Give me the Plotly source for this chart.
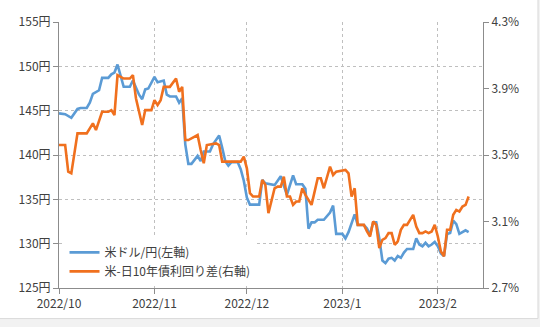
import plotly.graph_objects as go

# ---- data ----
usdjpy_dates = [
    "2022-10-01", "2022-10-03", "2022-10-05", "2022-10-07", "2022-10-08", "2022-10-10",
    "2022-10-11", "2022-10-12", "2022-10-14", "2022-10-15", "2022-10-17", "2022-10-18",
    "2022-10-19", "2022-10-20", "2022-10-22", "2022-10-24", "2022-10-25", "2022-10-27",
    "2022-10-28", "2022-10-29", "2022-10-30", "2022-11-01", "2022-11-02", "2022-11-04",
    "2022-11-05", "2022-11-06", "2022-11-08", "2022-11-09", "2022-11-10", "2022-11-11",
    "2022-11-12", "2022-11-13", "2022-11-15", "2022-11-16", "2022-11-17", "2022-11-19",
    "2022-11-20", "2022-11-22", "2022-11-23", "2022-11-24", "2022-11-25", "2022-11-26",
    "2022-11-28", "2022-11-29", "2022-11-30", "2022-12-01", "2022-12-02", "2022-12-05",
    "2022-12-06", "2022-12-07", "2022-12-10", "2022-12-12", "2022-12-14", "2022-12-16",
    "2022-12-17", "2022-12-19", "2022-12-20", "2022-12-21", "2022-12-22", "2022-12-23",
    "2022-12-24", "2022-12-26", "2022-12-28", "2022-12-29", "2022-12-30", "2023-01-01",
    "2023-01-02", "2023-01-03", "2023-01-05", "2023-01-06", "2023-01-08", "2023-01-09",
    "2023-01-10", "2023-01-11", "2023-01-12", "2023-01-13", "2023-01-14", "2023-01-15",
    "2023-01-16", "2023-01-17", "2023-01-18", "2023-01-19", "2023-01-20", "2023-01-21",
    "2023-01-22", "2023-01-24", "2023-01-25", "2023-01-26", "2023-01-27", "2023-01-28",
    "2023-01-29", "2023-01-30", "2023-01-31", "2023-02-01", "2023-02-02", "2023-02-03",
    "2023-02-04", "2023-02-05", "2023-02-06", "2023-02-07", "2023-02-08", "2023-02-09",
    "2023-02-10", "2023-02-11",
]
usdjpy_values = [
    144.7, 144.6, 144.2, 145.2, 145.3, 145.3,
    145.9, 146.9, 147.3, 148.7, 148.7, 149.1,
    149.3, 150.2, 147.7, 147.7, 148.4, 146.8,
    146.3, 147.4, 147.5, 148.8, 148.2, 148.4,
    146.8, 146.6, 146.6, 145.9, 146.4, 141.2,
    139.0, 139.0, 139.9, 139.3, 140.4, 140.4,
    141.2, 142.2, 140.8, 139.3, 138.8, 139.2,
    139.2, 138.4, 137.1, 135.2, 134.4, 134.4,
    137.2, 136.8, 136.6, 137.6, 135.5, 137.7,
    136.7, 136.7, 136.2, 131.7, 132.4, 132.4,
    132.7, 132.7, 133.5, 134.3, 131.1, 131.1,
    130.6, 131.3, 133.3, 132.1, 132.1, 131.7,
    131.0, 132.4, 132.4, 130.6, 128.1, 127.8,
    128.3, 128.4, 128.1, 128.6, 128.4, 129.0,
    129.4, 129.4, 130.6, 129.9, 129.7, 130.1,
    129.7, 129.9, 130.2, 129.7, 128.9, 128.6,
    131.1, 131.2, 132.6, 132.2, 131.1, 131.3,
    131.5, 131.3,
]

spread_dates = [
    "2022-10-01", "2022-10-03", "2022-10-04", "2022-10-05", "2022-10-06", "2022-10-07",
    "2022-10-10", "2022-10-12", "2022-10-13", "2022-10-15", "2022-10-17", "2022-10-18",
    "2022-10-19", "2022-10-20", "2022-10-22", "2022-10-24", "2022-10-25", "2022-10-26",
    "2022-10-28", "2022-10-29", "2022-10-31", "2022-11-01", "2022-11-02", "2022-11-03",
    "2022-11-04", "2022-11-06", "2022-11-08", "2022-11-09", "2022-11-10", "2022-11-11",
    "2022-11-12", "2022-11-15", "2022-11-16", "2022-11-17", "2022-11-18", "2022-11-21",
    "2022-11-22", "2022-11-23", "2022-11-25", "2022-11-29", "2022-11-30", "2022-12-01",
    "2022-12-02", "2022-12-03", "2022-12-05", "2022-12-06", "2022-12-07", "2022-12-08",
    "2022-12-10", "2022-12-11", "2022-12-12", "2022-12-13", "2022-12-14", "2022-12-15",
    "2022-12-16", "2022-12-17", "2022-12-18", "2022-12-19", "2022-12-20", "2022-12-22",
    "2022-12-24", "2022-12-25", "2022-12-26", "2022-12-28", "2022-12-29", "2022-12-30",
    "2023-01-02", "2023-01-03", "2023-01-04", "2023-01-05", "2023-01-06", "2023-01-08",
    "2023-01-09", "2023-01-10", "2023-01-11", "2023-01-12", "2023-01-13", "2023-01-14",
    "2023-01-15", "2023-01-16", "2023-01-17", "2023-01-18", "2023-01-19", "2023-01-20",
    "2023-01-21", "2023-01-22", "2023-01-23", "2023-01-24", "2023-01-25", "2023-01-26",
    "2023-01-27", "2023-01-28", "2023-01-29", "2023-01-30", "2023-01-31", "2023-02-01",
    "2023-02-02", "2023-02-03", "2023-02-04", "2023-02-05", "2023-02-06", "2023-02-07",
    "2023-02-08", "2023-02-09", "2023-02-10", "2023-02-11",
]
spread_values = [
    3.56, 3.56, 3.40, 3.39, 3.51, 3.63,
    3.63, 3.69, 3.65, 3.76, 3.76, 3.77,
    3.74, 3.98, 3.96, 3.96, 3.98, 3.84,
    3.68, 3.77, 3.77, 3.83, 3.80, 3.83,
    3.91, 3.91, 3.96, 3.88, 3.91, 3.59,
    3.59, 3.62, 3.53, 3.45, 3.56, 3.57,
    3.56, 3.46, 3.46, 3.46, 3.49, 3.42,
    3.27, 3.25, 3.25, 3.35, 3.32, 3.15,
    3.30, 3.31, 3.31, 3.37, 3.25, 3.25,
    3.20, 3.22, 3.22, 3.30, 3.26, 3.20,
    3.36, 3.36, 3.30, 3.43, 3.38, 3.40,
    3.41, 3.39, 3.25, 3.30, 3.08, 3.08,
    3.04, 3.01, 3.10, 3.08, 2.94, 2.99,
    3.00, 3.03, 3.03, 2.96, 2.98, 3.05,
    3.08, 3.08, 3.11, 3.14, 3.07, 3.03,
    3.03, 3.04, 3.03, 3.04, 3.08, 3.01,
    2.92, 2.89, 3.05, 3.05, 3.14, 3.17,
    3.16, 3.19, 3.20, 3.25,
]

month_ticks = ["2022-10-01", "2022-11-01", "2022-12-01", "2023-01-01", "2023-02-01"]
month_labels = ["2022/10", "2022/11", "2022/12", "2023/1", "2023/2"]
left_ticks = [125, 130, 135, 140, 145, 150, 155]
right_ticks = [2.7, 3.1, 3.5, 3.9, 4.3]

series_names = ["米ドル/円(左軸)", "米-日10年債利回り差(右軸)"]

FONT = "Noto Sans CJK JP"
TXT = "#404040"
GRID = "#bfbfbf"
AXIS = "#8c8c8c"

fig = go.Figure()
fig.add_trace(go.Scatter(
    x=usdjpy_dates, y=usdjpy_values, mode="lines", name=series_names[0],
    line=dict(color="#5B9BD5", width=2.6), yaxis="y",
))
fig.add_trace(go.Scatter(
    x=spread_dates, y=spread_values, mode="lines", name=series_names[1],
    line=dict(color="#F0701E", width=2.6), yaxis="y2",
))

fig.update_layout(
    width=540, height=327,
    margin=dict(l=59, r=57, t=13, b=39),
    paper_bgcolor="white", plot_bgcolor="white",
    font=dict(family=FONT, size=12, color=TXT),
    showlegend=True,
    legend=dict(
        x=0.013, y=0.008, xanchor="left", yanchor="bottom",
        bgcolor="white", borderwidth=0,
        font=dict(family=FONT, size=12, color=TXT),
        itemwidth=30, tracegroupgap=0,
    ),
    xaxis=dict(
        type="date", range=["2022-10-01", "2023-02-15 16:00"],
        tickvals=month_ticks, ticktext=month_labels,
        showgrid=True, gridcolor=GRID, griddash="dot", gridwidth=1,
        showline=True, linecolor=AXIS, linewidth=1,
        ticks="outside", ticklen=5, tickcolor=AXIS,
        zeroline=False, tickfont=dict(size=12, color=TXT),
    ),
    yaxis=dict(
        range=[125, 155], tickvals=left_ticks,
        ticktext=[f"{v}円" for v in left_ticks],
        showgrid=True, gridcolor=GRID, griddash="dot", gridwidth=1,
        showline=True, linecolor=AXIS, linewidth=1,
        ticks="outside", ticklen=5, tickcolor=AXIS,
        zeroline=False, tickfont=dict(size=12, color=TXT),
    ),
    yaxis2=dict(
        range=[2.7, 4.3], overlaying="y", side="right",
        tickvals=right_ticks, ticktext=[f"{v:.1f}%" for v in right_ticks],
        showgrid=False, showline=True, linecolor=AXIS, linewidth=1,
        ticks="outside", ticklen=5, tickcolor=AXIS,
        zeroline=False, tickfont=dict(size=12, color=TXT),
    ),
    shapes=[
        dict(type="rect", xref="paper", yref="paper",
             x0=-0.2, x1=1.2, y0=-0.115, y1=-0.2,
             fillcolor="#f2f2f2", line=dict(width=0), layer="below"),
        dict(type="rect", xref="paper", yref="paper",
             x0=1.1297, x1=1.2, y0=-0.2, y1=1.1,
             fillcolor="#f2f2f2", line=dict(width=0), layer="below"),
        dict(type="line", xref="paper", yref="paper",
             x0=-0.2, x1=1.1297, y0=-0.115, y1=-0.115,
             line=dict(color="#d9d9d9", width=1)),
        dict(type="line", xref="paper", yref="paper",
             x0=1.1297, x1=1.1297, y0=-0.115, y1=1.1,
             line=dict(color="#d9d9d9", width=1)),
    ],
)

fig.write_html("out.html")
